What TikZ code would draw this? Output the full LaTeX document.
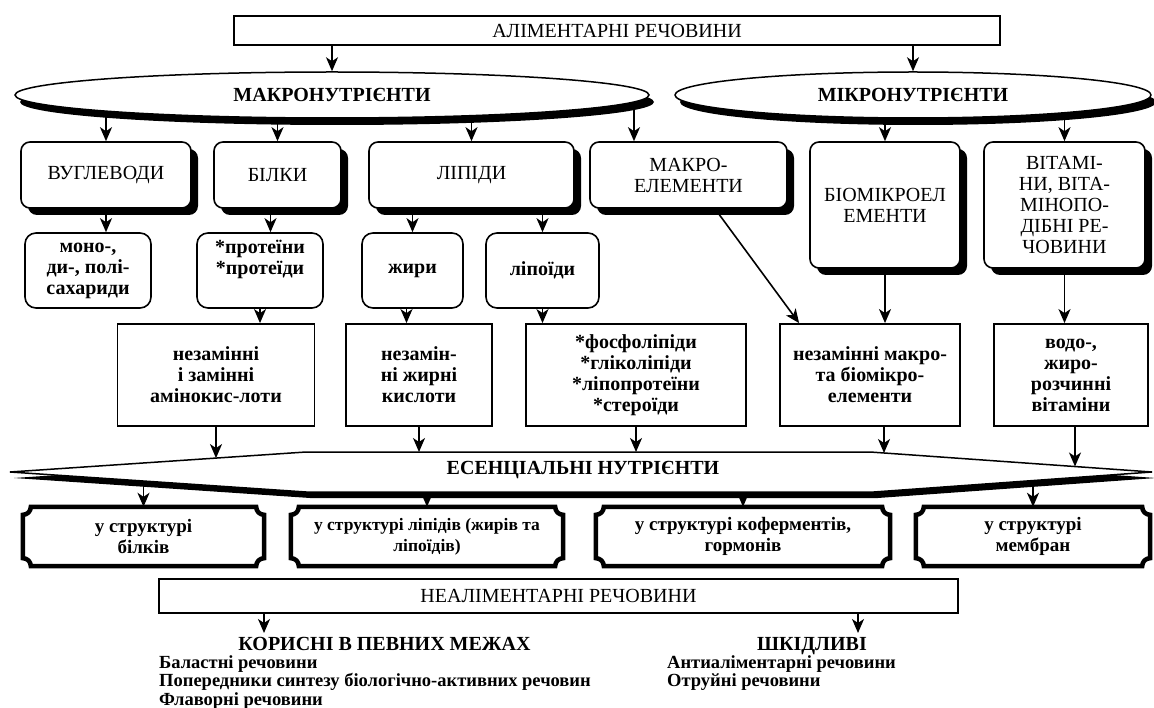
\documentclass[tikz,border=0pt]{standalone}
\usepackage{fontspec}
\setmainfont{Liberation Serif}
\usetikzlibrary{arrows.meta,shapes.geometric,shadows,backgrounds,calc}
\begin{document}
\begin{tikzpicture}[x=1pt,y=-1pt,
  every node/.style={font=\fontsize{20}{21}\selectfont, align=center, inner sep=1pt},
  bf/.style={font=\bfseries\fontsize{20}{21}\selectfont},
  arr/.style={line width=1.6pt, -{Stealth[length=14pt,width=12pt,inset=4pt]}},
  plain/.style={draw, line width=1.6pt, fill=white},
  sbox/.style={draw, line width=1.6pt, rounded corners=9pt, fill=white,
    drop shadow={fill=black, opacity=1, shadow xshift=7pt, shadow yshift=-7pt}},
  rbox/.style={draw, line width=1.6pt, rounded corners=11pt, fill=white, bf},
  qbox/.style={draw, line width=1.8pt, fill=white, bf},
  ell/.style={ellipse, draw, line width=1.5pt, fill=white, inner sep=0pt,
    drop shadow={fill=black, opacity=1, shadow xshift=5pt, shadow yshift=-7pt},
    font=\bfseries\fontsize{20}{21}\selectfont},
  plq/.style={draw, line width=4.5pt, fill=white},
  ptxt/.style={font=\bfseries\fontsize{19}{21}\selectfont},
  banner/.style={draw, line width=1.5pt, fill=white},
  lst/.style={font=\bfseries\fontsize{18.5}{18.5}\selectfont, anchor=north west, align=left, inner sep=0pt},
]
\useasboundingbox (0,0) rectangle (1154,708);

% top
\node[plain, minimum width=766pt, minimum height=29pt, inner sep=0pt] (top) at (617,30.5) {АЛІМЕНТАРНІ РЕЧОВИНИ};
\node[ell, minimum width=634pt, minimum height=46pt] (mac) at (332,95) {МАКРОНУТРІЄНТИ};
\node[ell, minimum width=476pt, minimum height=46pt] (mic) at (913,95) {МІКРОНУТРІЄНТИ};

% row 2
\node[sbox, minimum width=170pt, minimum height=66pt] (vug) at (106,175) {ВУГЛЕВОДИ};
\node[sbox, minimum width=127pt, minimum height=66pt] (bil) at (277.5,175) {БІЛКИ};
\node[sbox, minimum width=205pt, minimum height=66pt] (lip) at (471.5,175) {ЛІПІДИ};
\node[sbox, minimum width=197pt, minimum height=66pt] (mel) at (688.5,175) {МАКРО-\\ЕЛЕМЕНТИ};
\node[sbox, minimum width=150pt, minimum height=126pt] (bio) at (885,205) {БІОМІКРОЕЛ\\ЕМЕНТИ};
\node[sbox, minimum width=161pt, minimum height=126pt] (vit) at (1064.5,205) {ВІТАМІ-\\НИ, ВІТА-\\МІНОПО-\\ДІБНІ РЕ-\\ЧОВИНИ};

% row 3
\node[rbox, minimum width=126pt, minimum height=75pt] (mono) at (88,270.5) {моно-,\\ди-, полі-\\сахариди};
\node[rbox, minimum width=126pt, minimum height=75pt] (prot) at (260,270.5) {*протеїни\\*протеїди\\\strut};
\node[rbox, minimum width=101pt, minimum height=75pt] (zhy) at (412.5,270.5) {жири};
\node[rbox, minimum width=113pt, minimum height=75pt] (lpd) at (542.5,270.5) {ліпоїди};

% row 4
\node[qbox, minimum width=197pt, minimum height=102pt] (n4a) at (216,375) {незамінні\\і замінні\\амінокис-лоти};
\node[qbox, minimum width=146pt, minimum height=102pt] (n4b) at (419,375) {незамін-\\ні жирні\\кислоти};
\node[qbox, minimum width=220pt, minimum height=102pt] (n4c) at (636,375) {*фосфоліпіди\\*гліколіпіди\\*ліпопротеїни\\*стероїди};
\node[qbox, minimum width=180pt, minimum height=102pt] (n4d) at (870,375) {незамінні макро-\\та біомікро-\\елементи};
\node[qbox, minimum width=154pt, minimum height=102pt] (n4e) at (1071,375) {водо-,\\жиро-\\розчинні\\вітаміни};

% banner
\fill[black, shift={(4,6)}] (10,472) -- (306,452) -- (870,452) -- (1152,472) -- (874,492) -- (306,492) -- cycle;
\draw[banner] (10,472) -- (306,452) -- (870,452) -- (1152,472) -- (874,492) -- (306,492) -- cycle;
\node[font=\bfseries\fontsize{20}{21}\selectfont] (ess) at (583,470) {ЕСЕНЦІАЛЬНІ НУТРІЄНТИ};

% row 5
\node[ptxt, minimum width=241pt, minimum height=59pt] (p1) at (143.5,536.5) {у структурі\\білків};
\node[ptxt, font=\bfseries\fontsize{17.5}{21}\selectfont, minimum width=272pt, minimum height=59pt] (p2) at (427,536.5) {у структурі ліпідів (жирів та\\ліпоїдів)};
\node[ptxt, minimum width=294pt, minimum height=59pt] (p3) at (743,536.5) {у структурі коферментів,\\гормонів};
\node[ptxt, minimum width=234pt, minimum height=59pt] (p4) at (1033,536.5) {у структурі\\мембран};

% non-alimentary
\node[plain, minimum width=799pt, minimum height=34pt, inner sep=0pt] (neal) at (558.5,596) {НЕАЛІМЕНТАРНІ РЕЧОВИНИ};
\node[font=\bfseries\fontsize{20}{21}\selectfont, anchor=base] (kor) at (384.5,650) {КОРИСНІ В ПЕВНИХ МЕЖАХ};
\node[font=\bfseries\fontsize{20}{21}\selectfont, anchor=base] (shk) at (812,650) {ШКІДЛИВІ};
\node[lst] (kl) at (159,655) {Баластні речовини\\Попередники синтезу біологічно-активних речовин\\Флаворні речовини};
\node[lst] (sl) at (667,655) {Антиаліментарні речовини\\Отруйні речовини};

% coordinates
\coordinate (m4) at ([xshift=-54.5pt]mel.north);
\coordinate (b3) at ([xshift=-7pt]bil.south);
\coordinate (z4) at ([xshift=-6pt]zhy.south);
\coordinate (d1) at ([xshift=26.5pt]mel.south);
\coordinate (d2) at ([xshift=20pt]n4d.north west);
\coordinate (e1) at (216,458.1);
\coordinate (e2) at (419,452);
\coordinate (e3) at (636,452);
\coordinate (e4) at (884,453);
\coordinate (e5) at (1075,466.5);
\coordinate (ka) at (264,633);
\coordinate (kb) at (858,633);

\begin{scope}[on background layer]
  \foreach \nm in {p1,p2,p3,p4}{
    \draw[plq] let \p1=(\nm.north west), \p2=(\nm.south east) in
      (\x1+8pt,\y1) -- (\x2-8pt,\y1) .. controls (\x2-8pt,\y1-4.5pt) and (\x2-4.5pt,\y1-8pt) .. (\x2,\y1-8pt)
      -- (\x2,\y2+8pt) .. controls (\x2-4.5pt,\y2+8pt) and (\x2-8pt,\y2+4.5pt) .. (\x2-8pt,\y2)
      -- (\x1+8pt,\y2) .. controls (\x1+8pt,\y2+4.5pt) and (\x1+4.5pt,\y2+8pt) .. (\x1,\y2+8pt)
      -- (\x1,\y1-8pt) .. controls (\x1+4.5pt,\y1-8pt) and (\x1+8pt,\y1-4.5pt) .. (\x1+8pt,\y1) -- cycle;
  }
  \draw[arr] (mac.north |- top.south) -- (mac.north);
  \draw[arr] (mic.north |- top.south) -- (mic.north);
  \draw[arr] (mac.center -| vug.north) -- (vug.north);
  \draw[arr] (mac.center -| bil.north) -- (bil.north);
  \draw[arr] (mac.center -| lip.north) -- (lip.north);
  \draw[arr] (m4 |- mac.center) -- (m4);
  \draw[arr] (mic.center -| bio.north) -- (bio.north);
  \draw[arr] (mic.center -| vit.north) -- (vit.north);
  \draw[arr] (vug.south) -- (vug.south |- mono.north);
  \draw[arr] (b3) -- (b3 |- prot.north);
  \draw[arr] (zhy.north |- lip.south) -- (zhy.north);
  \draw[arr] (lpd.north |- lip.south) -- (lpd.north);
  \draw[arr] (prot.south) -- (prot.south |- n4a.north);
  \draw[arr] (z4) -- (z4 |- n4b.north);
  \draw[arr] (lpd.south) -- (lpd.south |- n4c.north);
  \draw[arr] (d1) -- (d2);
  \draw[arr] (bio.south) -- (bio.south |- n4d.north);
  \draw[arr] (vit.south) -- (vit.south |- n4e.north);
  \draw[arr] (n4a.south -| e1) -- (e1);
  \draw[arr] (n4b.south -| e2) -- (e2);
  \draw[arr] (n4c.south -| e3) -- (e3);
  \draw[arr] (n4d.south -| e4) -- (e4);
  \draw[arr] (n4e.south -| e5) -- (e5);
  \draw[arr] (p1.north |- ess.center) -- (p1.north);
  \draw[arr] (p2.north |- ess.center) -- (p2.north);
  \draw[arr] (p3.north |- ess.center) -- (p3.north);
  \draw[arr] (p4.north |- ess.center) -- (p4.north);
  \draw[arr] (neal.south -| ka) -- (ka);
  \draw[arr] (neal.south -| kb) -- (kb);
\end{scope}
\end{tikzpicture}
\end{document}
